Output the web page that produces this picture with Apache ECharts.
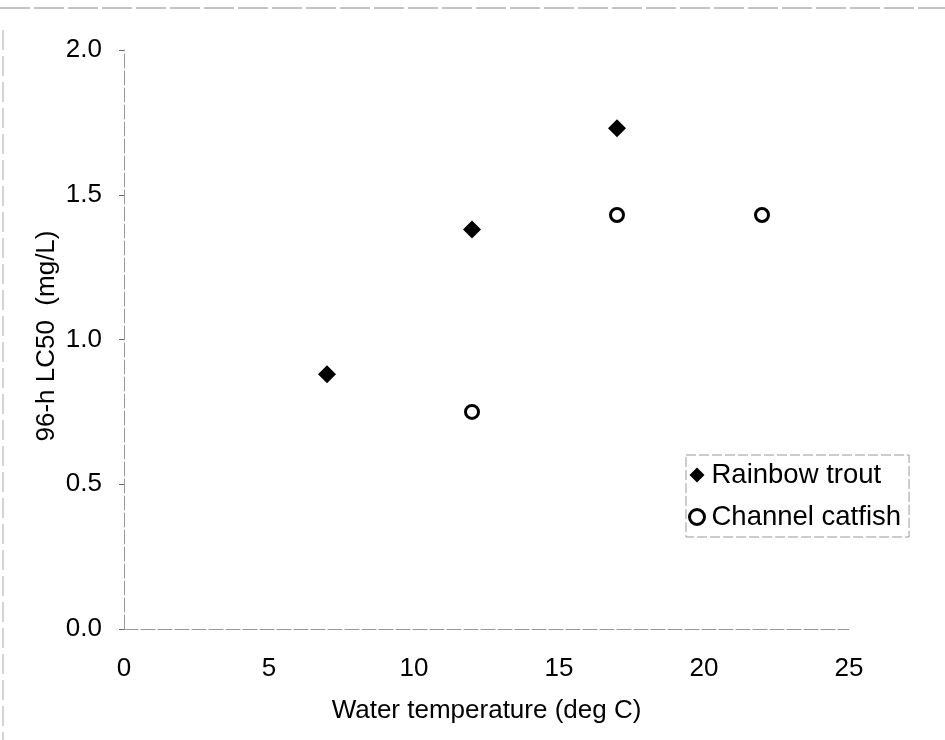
<!DOCTYPE html>
<html><head><meta charset="utf-8">
<script src="https://cdn.jsdelivr.net/npm/echarts@6/dist/echarts.min.js"></script>
<style>html,body{margin:0;padding:0;background:#fff}#c{width:945px;height:740px}</style>
</head><body><div id="c"></div>
<script>
const troutTemp = [7, 12, 17];
const troutLC50 = [0.88, 1.38, 1.73];
const catfishTemp = [12, 17, 22];
const catfishLC50 = [0.75, 1.43, 1.43];
const seriesNames = ['Rainbow trout', 'Channel catfish'];
const xTitle = 'Water temperature (deg C)';
const yTitle = '96-h LC50  (mg/L)';

const chart = echarts.init(document.getElementById('c'));
const font = 'Liberation Sans, Arial, sans-serif';
chart.setOption({
  animation: false,
  backgroundColor: '#fff',
  grid: {left: 124, right: 96, top: 50, bottom: 111, containLabel: false},
  xAxis: {
    type: 'value', min: 0, max: 25, interval: 5,
    name: xTitle, nameLocation: 'middle', nameGap: 69,
    nameTextStyle: {fontFamily: font, fontSize: 26, color: '#000'},
    axisLine: {lineStyle: {color: '#999', width: 1, type: [14, 3]}},
    axisTick: {show: false},
    axisLabel: {fontFamily: font, fontSize: 26, color: '#000', margin: 27, formatter: v => String(v)},
    splitLine: {show: false}
  },
  yAxis: {
    type: 'value', min: 0, max: 2, interval: 0.5,
    axisLine: {show: true, lineStyle: {color: '#999', width: 1, type: [14, 3]}},
    axisTick: {show: true, length: 5, lineStyle: {color: '#666'}},
    axisLabel: {fontFamily: font, fontSize: 26, color: '#000', margin: 22, formatter: v => v.toFixed(1)},
    splitLine: {show: false}
  },
  legend: {
    orient: 'vertical', left: 686, top: 455,
    itemWidth: 15, itemHeight: 15, itemGap: 14,
    padding: [6, 8, 6, 2],
    borderColor: '#999', borderWidth: 1, borderType: [10, 3],
    textStyle: {fontFamily: font, fontSize: 27.5, color: '#000', padding: [0, 0, 0, 2]},
    data: [
      {name: seriesNames[0], icon: 'diamond', itemStyle: {color: '#000', opacity: 1}},
      {name: seriesNames[1], icon: 'circle', itemStyle: {color: '#fff', borderColor: '#000', borderWidth: 3, opacity: 1}}
    ]
  },
  graphic: [
    {type: 'line', shape: {x1: 0, y1: 8, x2: 945, y2: 8}, style: {stroke: '#888', lineWidth: 1, lineDash: [30, 4]}},
    {type: 'line', shape: {x1: 3, y1: 30, x2: 3, y2: 740}, style: {stroke: '#aaa', lineWidth: 1, lineDash: [20, 6]}},
    {type: 'text', x: 47, y: 336, rotation: Math.PI / 2,
     style: {text: yTitle, font: '26px ' + font, fill: '#000', textAlign: 'center', textVerticalAlign: 'middle'}}
  ],
  series: [
    {name: seriesNames[0], type: 'scatter', symbol: 'diamond', symbolSize: 18,
     itemStyle: {color: '#000', opacity: 1},
     data: troutTemp.map((t, i) => [t, troutLC50[i]])},
    {name: seriesNames[1], type: 'scatter', symbol: 'circle', symbolSize: 13,
     itemStyle: {color: '#fff', borderColor: '#000', borderWidth: 3, opacity: 1},
     data: catfishTemp.map((t, i) => [t, catfishLC50[i]])}
  ]
});
</script></body></html>
